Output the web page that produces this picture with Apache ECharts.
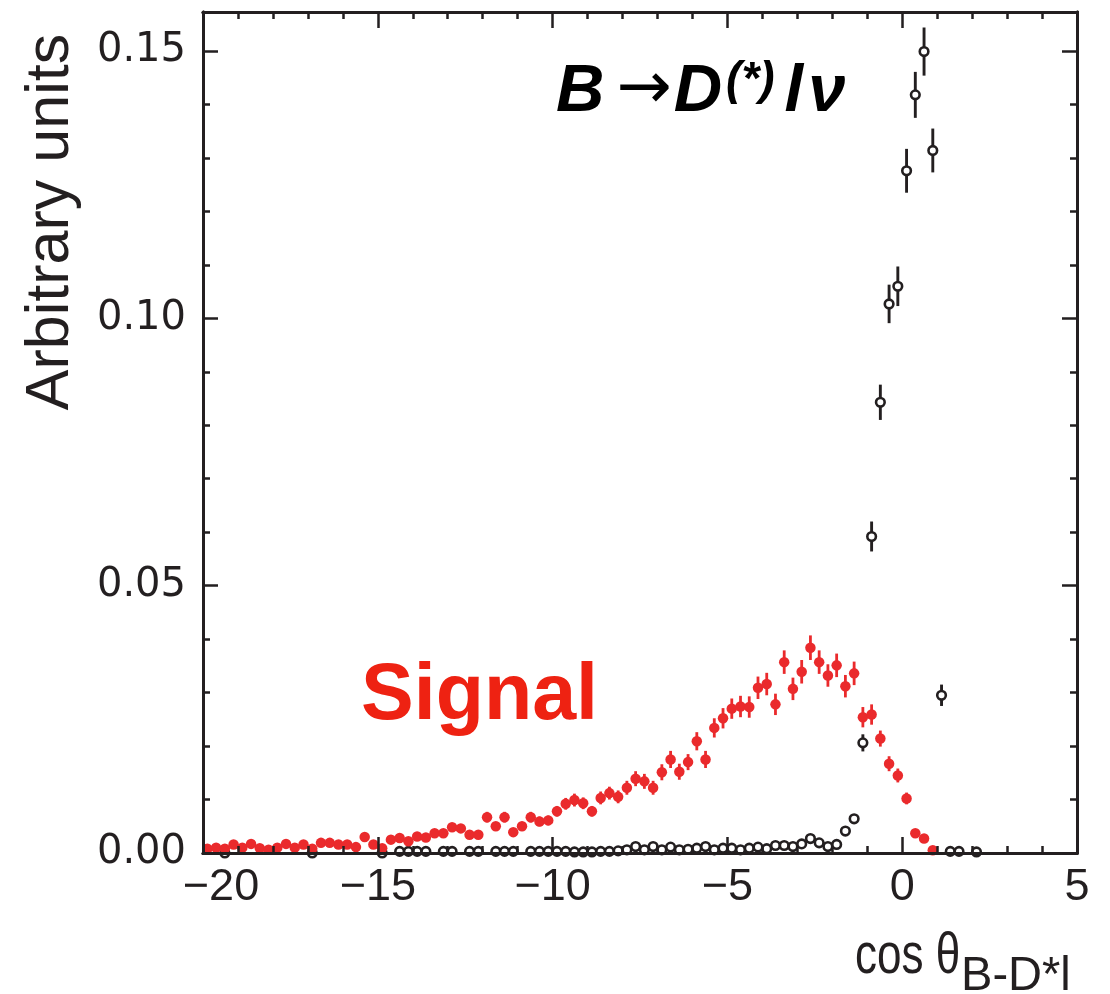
<!DOCTYPE html>
<html>
<head>
<meta charset="utf-8">
<script src="https://cdn.jsdelivr.net/npm/echarts@6/dist/echarts.min.js"></script>
<style>
  html, body { margin: 0; padding: 0; background: #ffffff; }
  #chart { width: 1110px; height: 994px; }
</style>
</head>
<body>
<div id="chart"></div>
<script>
// Histogram binning of cos(theta_B-D*l): 0.25-wide bins starting at -20
const BIN_LO = -20;
const BIN_WIDTH = 0.25;

// Signal sample (red, filled markers), one value per bin starting at -20
const signalY = [
  0.0008, 0.0010, 0.0008, 0.0016, 0.0010, 0.0017, 0.0009, 0.0006, 0.0010, 0.0017,
  0.0010, 0.0016, 0.0008, 0.0019, 0.0019, 0.0016, 0.0016, 0.0011, 0.0030, 0.0016,
  0.0009, 0.0025, 0.0028, 0.0022, 0.0031, 0.0029, 0.0037, 0.0037, 0.0048, 0.0046,
  0.0034, 0.0034, 0.0067, 0.0050, 0.0067, 0.0039, 0.0050, 0.0067, 0.0059, 0.0061,
  0.0078, 0.0092, 0.0099, 0.0093, 0.0078, 0.0103, 0.0112, 0.0105, 0.0122, 0.0139,
  0.0134, 0.0122, 0.0151, 0.0175, 0.0152, 0.0170, 0.0209, 0.0175, 0.0234, 0.0252,
  0.0270, 0.0274, 0.0273, 0.0309, 0.0316, 0.0278, 0.0357, 0.0307, 0.0339, 0.0384,
  0.0357, 0.0332, 0.0351, 0.0312, 0.0336, 0.0254, 0.0259, 0.0214, 0.0167, 0.0145,
  0.0102, 0.0037, 0.0027, 0.0005
];
const signalErr = [
  0.0003, 0.0004, 0.0003, 0.0005, 0.0004, 0.0005, 0.0004, 0.0003, 0.0004, 0.0005,
  0.0004, 0.0005, 0.0003, 0.0005, 0.0005, 0.0005, 0.0005, 0.0004, 0.0006, 0.0005,
  0.0004, 0.0006, 0.0006, 0.0006, 0.0007, 0.0006, 0.0007, 0.0007, 0.0008, 0.0008,
  0.0007, 0.0007, 0.0010, 0.0008, 0.0010, 0.0007, 0.0008, 0.0010, 0.0009, 0.0009,
  0.0010, 0.0011, 0.0012, 0.0011, 0.0010, 0.0012, 0.0012, 0.0012, 0.0013, 0.0014,
  0.0014, 0.0013, 0.0015, 0.0016, 0.0015, 0.0015, 0.0017, 0.0016, 0.0018, 0.0019,
  0.0019, 0.0020, 0.0020, 0.0021, 0.0021, 0.0020, 0.0022, 0.0021, 0.0022, 0.0023,
  0.0022, 0.0021, 0.0022, 0.0021, 0.0022, 0.0019, 0.0019, 0.0015, 0.0014, 0.0013,
  0.0011, 0.0006, 0.0006, 0.0003
];

// B -> D(*) l nu background (black, open markers); null marks an empty bin
const bkgY = [
  null,   null,   0.0000, null,   null,   null,   null,   null,   null,   null,
  null,   null,   0.0000, null,   null,   null,   null,   null,   null,   null,
  0.0000, null,   0.0003, 0.0003, 0.0003, 0.0003, null,   0.0003, 0.0003, null,
  0.0003, 0.0003, null,   0.0003, 0.0003, 0.0003, null,   0.0003, 0.0003, 0.0003,
  0.0003, 0.0003, 0.0002, 0.0002, 0.0002, 0.0003, 0.0003, 0.0004, 0.0006, 0.0012,
  0.0006, 0.0012, 0.0006, 0.0011, 0.0006, 0.0007, 0.0009, 0.0012, 0.0006, 0.0009,
  0.0009, 0.0006, 0.0009, 0.0011, 0.0008, 0.0014, 0.0014, 0.0012, 0.0017, 0.0027,
  0.0019, 0.0012, 0.0016, 0.0041, 0.0064, 0.0206, 0.0592, 0.0843, 0.1027, 0.1060,
  0.1276, 0.1418, 0.1499, 0.1314, 0.0295, 0.0003, 0.0003, null,   0.0002
];
const bkgErr = [
  null,   null,   0.0002, null,   null,   null,   null,   null,   null,   null,
  null,   null,   0.0002, null,   null,   null,   null,   null,   null,   null,
  0.0002, null,   0.0002, 0.0002, 0.0002, 0.0002, null,   0.0002, 0.0002, null,
  0.0002, 0.0002, null,   0.0002, 0.0002, 0.0002, null,   0.0002, 0.0002, 0.0002,
  0.0002, 0.0002, 0.0002, 0.0002, 0.0002, 0.0002, 0.0002, 0.0002, 0.0003, 0.0004,
  0.0003, 0.0004, 0.0003, 0.0004, 0.0003, 0.0003, 0.0003, 0.0004, 0.0003, 0.0003,
  0.0003, 0.0003, 0.0003, 0.0004, 0.0003, 0.0004, 0.0004, 0.0004, 0.0004, 0.0005,
  0.0004, 0.0004, 0.0004, 0.0006, 0.0008, 0.0016, 0.0028, 0.0033, 0.0036, 0.0037,
  0.0041, 0.0043, 0.0045, 0.0041, 0.0020, 0.0002, 0.0002, null,   0.0002
];

// Axis ranges and tick labels
const X_MIN = -20, X_MAX = 5;
const Y_MIN = 0, Y_MAX = 0.1573;
const xTickLabels = { '-20': '\u221220', '-15': '\u221215', '-10': '\u221210', '-5': '\u22125', '0': '0', '5': '5' };
const yTickLabels = { '0': '0.00', '0.05': '0.05', '0.1': '0.10', '0.15': '0.15' };

const INK = '#231f20';
const RED = '#ea2a2c';
const SANS = '"Liberation Sans", Arial, sans-serif';

function binCenter(i) { return BIN_LO + (i + 0.5) * BIN_WIDTH; }

function points(vals) {
  const out = [];
  vals.forEach((v, i) => { if (v !== null) out.push([binCenter(i), v]); });
  return out;
}
function bars(vals, errs) {
  const out = [];
  vals.forEach((v, i) => { if (v !== null) out.push([binCenter(i), v, errs[i]]); });
  return out;
}

// Vertical error bar for one bin, drawn through the cartesian coordinate system
function errorBar(color, width) {
  return function (params, api) {
    const x = api.value(0), y = api.value(1), e = api.value(2);
    const hi = api.coord([x, y + e]);
    const lo = api.coord([x, y - e]);
    return {
      type: 'line',
      shape: { x1: hi[0], y1: hi[1], x2: lo[0], y2: lo[1] },
      style: { stroke: color, lineWidth: width }
    };
  };
}

const frameLine = { show: true, onZero: false, lineStyle: { color: INK, width: 3 } };

function xAxisDef(position, interval, tickLen, withLabels) {
  return {
    type: 'value', min: X_MIN, max: X_MAX, interval: interval, position: position,
    z: 10,
    axisLine: frameLine,
    axisTick: { show: true, inside: true, length: tickLen, lineStyle: { color: INK, width: 2.5 } },
    axisLabel: withLabels ? {
      show: true, margin: 12, color: INK,
      fontFamily: SANS, fontSize: 45,
      formatter: v => {
        const t = xTickLabels[String(v)];
        if (t === undefined) return '';
        return v === X_MIN ? '{first|' + t + '}' : t;
      },
      rich: { first: { fontFamily: SANS, fontSize: 45, color: INK, padding: [0, 0, 0, 36] } }
    } : { show: false },
    splitLine: { show: false }
  };
}
function yAxisDef(position, interval, tickLen, withLabels) {
  return {
    type: 'value', min: Y_MIN, max: Y_MAX, interval: interval, position: position,
    z: 10,
    axisLine: frameLine,
    axisTick: { show: true, inside: true, length: tickLen, lineStyle: { color: INK, width: 2.5 } },
    axisLabel: withLabels ? {
      show: true, margin: 17, color: INK, showMaxLabel: false,
      fontFamily: '"DejaVu Sans", sans-serif', fontSize: 40,
      formatter: v => {
        const key = String(Math.round(v * 100) / 100);
        const t = yTickLabels[key];
        return (t === undefined || Math.abs(v - Number(key)) > 1e-9) ? '' : t;
      }
    } : { show: false },
    splitLine: { show: false }
  };
}

const chart = echarts.init(document.getElementById('chart'), null, { renderer: 'canvas' });

chart.setOption({
  backgroundColor: '#ffffff',
  animation: false,
  grid: { left: 203, right: 33, top: 12, bottom: 141, containLabel: false },
  xAxis: [
    xAxisDef('bottom', 5, 16, true),
    xAxisDef('bottom', 1, 7, false),
    xAxisDef('top', 5, 16, false),
    xAxisDef('top', 1, 7, false)
  ],
  yAxis: [
    yAxisDef('left', 0.05, 15, true),
    yAxisDef('left', 0.01, 7, false),
    yAxisDef('right', 0.05, 15, false),
    yAxisDef('right', 0.01, 7, false)
  ],
  series: [
    {
      name: 'bkg-err', type: 'custom', xAxisIndex: 0, yAxisIndex: 0,
      renderItem: errorBar(INK, 2.9), data: bars(bkgY, bkgErr),
      encode: { x: 0, y: 1 }, clip: false, z: 2
    },
    {
      name: 'B\u2192D(*)l\u03bd', type: 'scatter', xAxisIndex: 0, yAxisIndex: 0,
      data: points(bkgY), symbol: 'circle', symbolSize: 8.6,
      itemStyle: { color: '#ffffff', borderColor: INK, borderWidth: 2.6, opacity: 1 },
      clip: false, z: 3
    },
    {
      name: 'sig-err', type: 'custom', xAxisIndex: 0, yAxisIndex: 0,
      renderItem: errorBar(RED, 2.8), data: bars(signalY, signalErr),
      encode: { x: 0, y: 1 }, clip: false, z: 4
    },
    {
      name: 'Signal', type: 'scatter', xAxisIndex: 0, yAxisIndex: 0,
      data: points(signalY), symbol: 'circle', symbolSize: 10.5,
      itemStyle: { color: RED, opacity: 1 },
      clip: false, z: 5
    }
  ],
  graphic: [
    // Y-axis title
    {
      type: 'text', x: 51, y: 222, rotation: Math.PI / 2,
      style: {
        text: 'Arbitrary units', fill: INK,
        font: '61px ' + SANS,
        align: 'center', verticalAlign: 'middle'
      }
    },
    // X-axis title: "cos θ" with subscript "B-D*l"
    {
      type: 'text', x: 855, y: 957, scaleX: 0.76,
      style: {
        text: 'cos \u03b8', fill: INK,
        font: '58px ' + SANS,
        align: 'left', verticalAlign: 'middle'
      }
    },
    {
      type: 'text', x: 961, y: 976, scaleX: 0.96,
      style: {
        text: 'B-D*l', fill: INK,
        font: '49px ' + SANS,
        align: 'left', verticalAlign: 'middle'
      }
    },
    // Process label
    {
      type: 'text', x: 556, y: 128,
      style: {
        text: '{m|B}{a|\u2192}{m|D}{s|(*)}{m|l}{v|\u03bd}',
        fill: '#000000', align: 'left', verticalAlign: 'bottom',
        rich: {
          m: { fontFamily: SANS, fontSize: 67, fontWeight: 'bold', fontStyle: 'italic', fill: '#000000' },
          v: { fontFamily: SANS, fontSize: 67, fontWeight: 'bold', fontStyle: 'italic', fill: '#000000', padding: [0, 0, 0, 5] },
          a: { fontFamily: '"DejaVu Sans", sans-serif', fontSize: 66, fill: '#000000', padding: [0, 2, 4, 12] },
          s: { fontFamily: SANS, fontSize: 46, fontWeight: 'bold', fontStyle: 'italic', fill: '#000000', verticalAlign: 'top', padding: [0, 10, 0, 4] }
        }
      }
    },
    // Signal label
    {
      type: 'text', x: 361, y: 697,
      style: {
        text: 'Signal', fill: '#ee2212',
        font: 'bold 79px ' + SANS,
        align: 'left', verticalAlign: 'middle'
      }
    }
  ]
});
</script>
</body>
</html>
